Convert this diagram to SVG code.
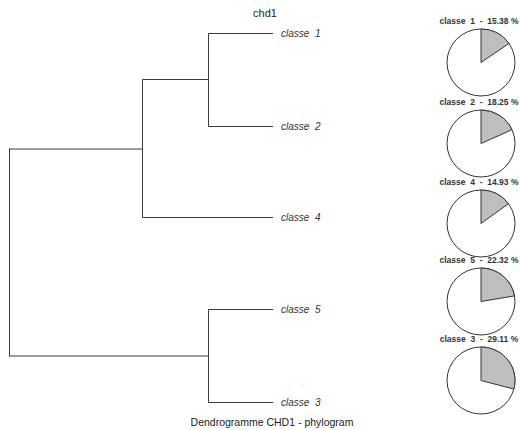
<svg xmlns="http://www.w3.org/2000/svg" width="520" height="430" viewBox="0 0 520 430">
<style>
.ln{fill:none;stroke:#3a3a3a;stroke-width:1}
.leaf{font-family:"Liberation Sans",Arial,sans-serif;font-size:10px;font-style:italic;fill:#333}
.ttl{font-family:"Liberation Sans",Arial,sans-serif;fill:#222;text-anchor:middle}
.pl{font-family:"Liberation Sans",Arial,sans-serif;font-size:8.5px;font-weight:bold;fill:#333;text-anchor:middle;white-space:pre}
.pw{fill:#fff;stroke:#333;stroke-width:1}
.pg{fill:#bebebe;stroke:#333;stroke-width:1}
</style>
<rect width="520" height="430" fill="#fff"/>
<text class="ttl" x="265" y="17" font-size="11">chd1</text>
<g id="connectors">
<path class="ln" d="M9.5,149 H142.5 M9.5,356 H208.5 M9.5,148.5 V356.5"/>
<path class="ln" d="M142.5,79.5 V217.5 M142.5,79.5 H208.5 M142.5,217.5 H273"/>
<path class="ln" d="M208.5,33.5 V126.5 M208.5,33.5 H273 M208.5,126.5 H273"/>
<path class="ln" d="M208.5,309.5 V402.5 M208.5,309.5 H273 M208.5,402.5 H273"/>
</g>
<g id="leaf1"><text class="leaf" x="281" y="37" xml:space="preserve">classe  1</text></g>
<g id="leaf2"><text class="leaf" x="281" y="130" xml:space="preserve">classe  2</text></g>
<g id="leaf4"><text class="leaf" x="281" y="221" xml:space="preserve">classe  4</text></g>
<g id="leaf5"><text class="leaf" x="281" y="313" xml:space="preserve">classe  5</text></g>
<g id="leaf3"><text class="leaf" x="281" y="406" xml:space="preserve">classe  3</text></g>
<g id="pie1">
<text class="pl" x="479" y="24" xml:space="preserve">classe  1  -  15.38 %</text>
<ellipse class="pw" cx="481" cy="62.5" rx="34" ry="33.5"/>
<path class="pg" d="M481,62.5 V29 A34,33.5 0 0 1 508.99,43.46 Z"/>
</g>
<g id="pie2">
<text class="pl" x="479" y="105" xml:space="preserve">classe  2  -  18.25 %</text>
<ellipse class="pw" cx="481" cy="143.5" rx="34" ry="33.5"/>
<path class="pg" d="M481,143.5 V110 A34,33.5 0 0 1 511.99,129.71 Z"/>
</g>
<g id="pie3">
<text class="pl" x="479" y="185" xml:space="preserve">classe  4  -  14.93 %</text>
<ellipse class="pw" cx="481" cy="223.5" rx="34" ry="33.5"/>
<path class="pg" d="M481,223.5 V190 A34,33.5 0 0 1 508.42,203.69 Z"/>
</g>
<g id="pie4">
<text class="pl" x="479" y="263" xml:space="preserve">classe  5  -  22.32 %</text>
<ellipse class="pw" cx="481" cy="301.5" rx="34" ry="33.5"/>
<path class="pg" d="M481,301.5 V268 A34,33.5 0 0 1 514.52,295.89 Z"/>
</g>
<g id="pie5">
<text class="pl" x="479" y="342" xml:space="preserve">classe  3  -  29.11 %</text>
<ellipse class="pw" cx="481" cy="380.5" rx="34" ry="33.5"/>
<path class="pg" d="M481,380.5 V347 A34,33.5 0 0 1 513.87,389.06 Z"/>
</g>
<text class="ttl" x="272" y="426" font-size="10.5">Dendrogramme CHD1 - phylogram</text>
</svg>
